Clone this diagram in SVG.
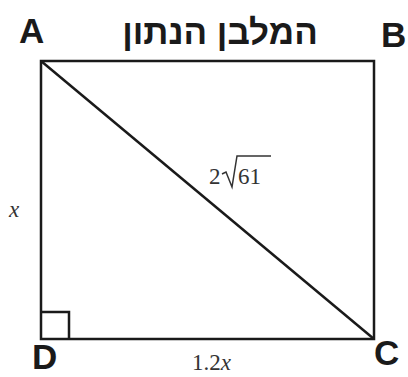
<svg xmlns="http://www.w3.org/2000/svg" width="408" height="377" viewBox="0 0 408 377">
<style>
.ln{stroke:#1a1a1a;stroke-width:2.5;fill:none}
.lbl{font-family:"Liberation Sans",Arial,sans-serif;font-weight:bold;font-size:35px;fill:#1a1a1a}
.math{font-family:"Liberation Serif","Times New Roman",serif;font-size:23px;fill:#333}
</style>
<rect width="408" height="377" fill="#fff"/>
<g id="edges">
<rect class="ln" x="41" y="61" width="333" height="278"/>
<line class="ln" x1="41" y1="61" x2="374" y2="339"/>
<polyline class="ln" points="41,312 69,312 69,339"/>
</g>
<g id="A"><text class="lbl" x="19" y="43">A</text></g>
<g id="B"><text class="lbl" x="381" y="47" font-size="33">B</text></g>
<g id="C"><text class="lbl" x="374" y="365" font-size="32">C</text></g>
<g id="D"><text class="lbl" x="32" y="369" font-size="28">D</text></g>
<g id="title"><text class="lbl" x="220" y="44" text-anchor="middle" direction="rtl" font-size="34">המלבן הנתון</text></g>
<g id="diag-label">
<text class="math" x="209" y="184">2</text>
<polyline points="222,174 226,172 232,187 237,156 271,156" stroke="#333" stroke-width="1.5" fill="none"/>
<text class="math" x="238" y="184">61</text>
</g>
<g id="side-x"><text class="math" x="9" y="217" font-style="italic">x</text></g>
<g id="side-12x"><text class="math" x="192" y="370">1.2<tspan font-style="italic">x</tspan></text></g>
</svg>
